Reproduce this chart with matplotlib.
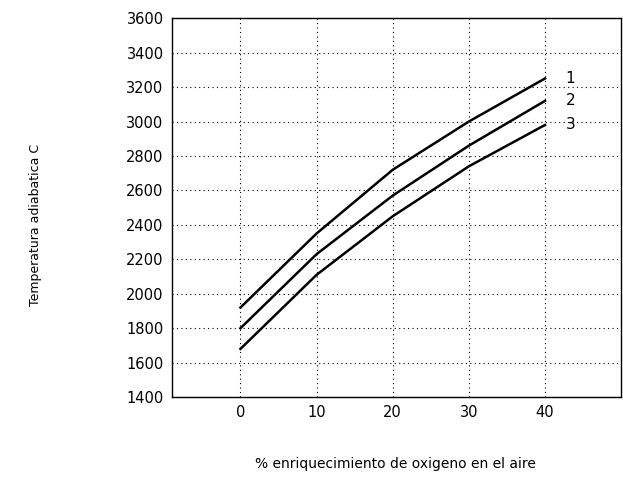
import matplotlib
matplotlib.use("Agg")
import matplotlib.pyplot as plt

# oxygen enrichment (%) and adiabatic temperature for the three curves
x = [0, 10, 20, 30, 40]
curve_1 = [1920, 2350, 2720, 3000, 3250]
curve_2 = [1800, 2230, 2570, 2860, 3120]
curve_3 = [1680, 2110, 2450, 2740, 2980]
curve_labels = ["1", "2", "3"]

x_ticks = [0, 10, 20, 30, 40]
y_ticks = list(range(1400, 3601, 200))

fig = plt.figure(figsize=(6.23, 4.79), dpi=100)
ax = fig.add_axes([0.276, 0.171, 0.721, 0.791])

for ys, lab in zip([curve_1, curve_2, curve_3], curve_labels):
    ax.plot(x, ys, color="black", linewidth=1.8)
    ax.text(x[-1] + 2.7, ys[-1], lab, fontsize=11, va="center", ha="left")

ax.set_xlim(-9, 50)
ax.set_ylim(1400, 3600)
ax.set_xticks(x_ticks)
ax.set_yticks(y_ticks)
ax.grid(True, color="black", linestyle=(0, (1, 3)), linewidth=0.8)
ax.tick_params(length=0, labelsize=10.5, pad=6)
for s in ax.spines.values():
    s.set_linewidth(1.0)

fig.text(0.635, 0.022, "% enriquecimiento de oxigeno en el aire", ha="center", fontsize=10)
fig.text(0.057, 0.53, "Temperatura adiabatica C", rotation=90, ha="center", va="center", fontsize=9)

fig.savefig("out.png", dpi=100)
